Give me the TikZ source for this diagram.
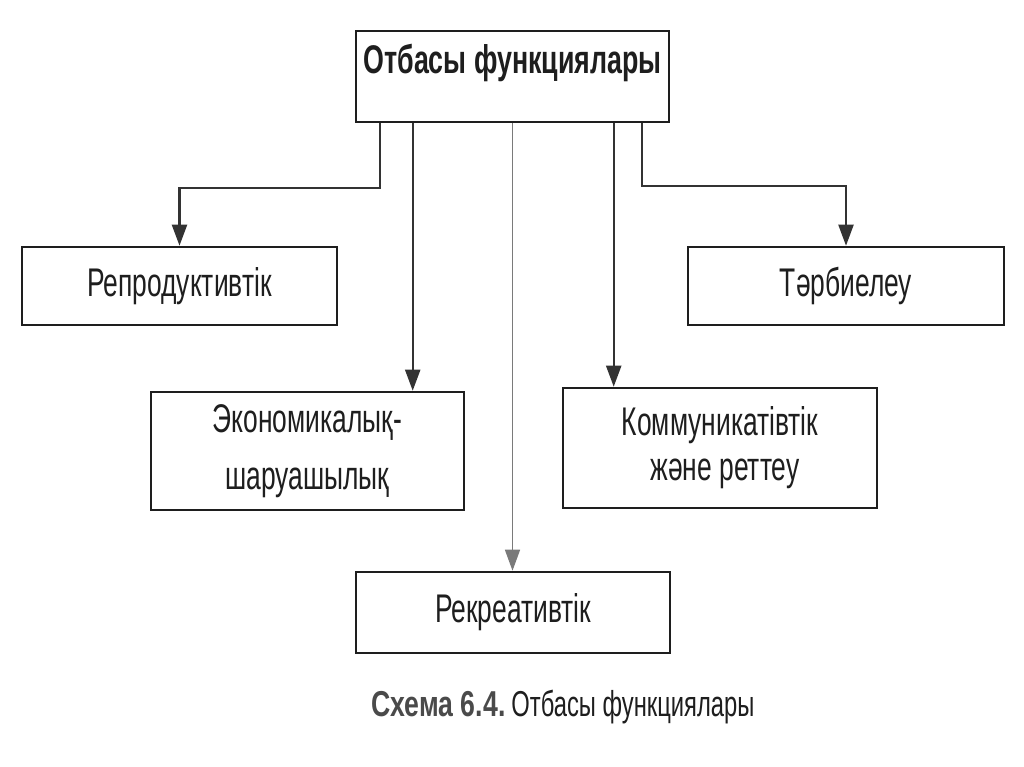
\documentclass[tikz,border=0pt]{standalone}
\usepackage{fontspec}
\setmainfont{Liberation Sans}
\newfontfamily\boxfont[FakeStretch=0.66]{Liberation Sans}
\newfontfamily\titlefont[FakeStretch=0.67]{Liberation Sans}
\newfontfamily\capfont[FakeStretch=0.74]{Liberation Sans}
\usetikzlibrary{arrows.meta,calc}
\definecolor{ink}{HTML}{1E1E1E}
\definecolor{lineink}{HTML}{333333}
\definecolor{midline}{HTML}{7A7A7A}
\definecolor{capgray}{HTML}{4A4A4A}
\tikzset{
  fbox/.style={draw=ink, line width=2.6pt, minimum width=314pt, inner sep=0pt, align=center, text=ink},
  arr/.style={draw=lineink, line width=2.2pt, -{Triangle[length=21pt,width=15pt]}},
  midarr/.style={draw=midline, line width=1.5pt, -{Triangle[length=21pt,width=15pt]}, color=midline},
}
\begin{document}
\begin{tikzpicture}[x=1pt,y=-1pt]
\useasboundingbox[fill=white] (0,0) rectangle (1024,767);
\node[fbox, minimum width=313pt, minimum height=91pt] (top) at (512.5,76.5)
  {\raisebox{3pt}[0pt][0pt]{\titlefont\bfseries\fontsize{40}{44}\selectfont Отбасы функциялары}};
\node[fbox, minimum width=315pt, minimum height=78pt] (rep) at (179.5,286)
  {\raisebox{5pt}{\boxfont\fontsize{40}{44}\selectfont Репродуктивтік}};
\node[fbox, minimum width=316pt, minimum height=78pt] (tar) at (846,286)
  {\raisebox{5pt}{\boxfont\fontsize{40}{44}\selectfont Тәрбиелеу}};
\node[fbox, minimum width=313pt, minimum height=118pt, font=\boxfont\fontsize{40}{57}\selectfont] (eco) at (307.5,451)
  {Экономикалық-\\шаруашылық};
\node[fbox, minimum width=314pt, minimum height=120pt, font=\boxfont\fontsize{40}{45}\selectfont] (com) at (720,448)
  {Коммуникатівтік\\\hspace*{10pt}және реттеу};
\node[fbox, minimum width=314pt, minimum height=81pt] (rec) at (513,612.5)
  {\raisebox{5pt}{\boxfont\fontsize{40}{44}\selectfont Рекреативтік}};
\draw[arr] ([xshift=25pt]top.south west) -- ++(0,65) -| (rep.north);
\draw[arr] ([xshift=287pt]top.south west) -- ++(0,63) -| (tar.north);
\draw[arr] ([xshift=58pt]top.south west) -- ([xshift=58pt]top.south west |- eco.north);
\draw[arr] ([xshift=259pt]top.south west) -- ([xshift=259pt]top.south west |- com.north);
\draw[midarr] (top.south) -- (top.south |- rec.north);
\node (cap) at (563,707) {\capfont\fontsize{36}{40}\selectfont{\color{capgray}\bfseries Схема 6.4.}\hspace{6pt}{\color{ink}\boxfont Отбасы функциялары}};
\end{tikzpicture}
\end{document}
